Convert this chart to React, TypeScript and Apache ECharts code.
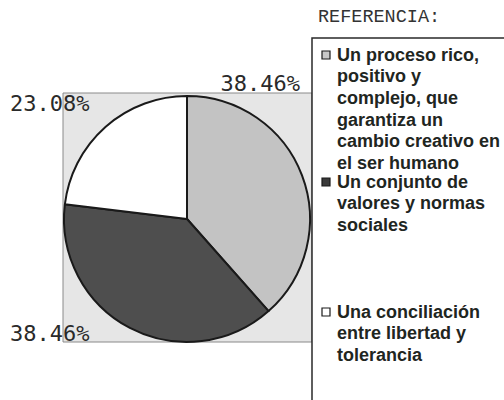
import React, { useEffect, useRef } from "react";
import * as echarts from "echarts";

const categories = [
  "Un proceso rico, positivo y complejo, que garantiza un cambio creativo en el ser humano",
  "Un conjunto de valores y normas sociales",
  "Una conciliación entre libertad y tolerancia",
];
const legendLines = [
  ["Un proceso rico,", "positivo y", "complejo, que", "garantiza un", "cambio creativo en", "el ser humano"],
  ["Un conjunto de", "valores y normas", "sociales"],
  ["Una conciliación", "entre libertad y", "tolerancia"],
];
const values = [38.46, 38.46, 23.08];
const legendTitle = "REFERENCIA:";

const sliceColors = ["#c3c3c3", "#4e4e4e", "#ffffff"];
const iconColors = ["#c8c8c8", "#3a3a3a", "#ffffff"];
const labelPos = [
  { x: 300, y: 83, align: "right" },
  { x: 10, y: 333, align: "left" },
  { x: 10, y: 103, align: "left" },
];
const legendTops = [44, 171, 301];

export default function App() {
  const ref = useRef<HTMLDivElement>(null);
  useEffect(() => {
    const chart = echarts.init(ref.current!, null, { renderer: "svg" });
    const graphics: any[] = [
      {
        type: "rect",
        z: 0,
        shape: { x: 63, y: 93, width: 249, height: 249 },
        style: { fill: "#e6e6e6", stroke: "#8a8a8a", lineWidth: 1 },
      },
      {
        type: "rect",
        z: 0,
        shape: { x: 312, y: 38, width: 200, height: 370 },
        style: { fill: "#ffffff", stroke: "#2a2a2a", lineWidth: 1.5 },
      },
      {
        type: "text",
        x: 318,
        y: 8,
        style: {
          text: legendTitle,
          font: "normal 18.5px 'Liberation Mono', 'DejaVu Sans Mono', monospace",
          fill: "#333333",
        },
      },
    ];
    categories.forEach((c, i) => {
      graphics.push({
        type: "rect",
        shape: { x: 322, y: legendTops[i] + 7, width: 8, height: 8 },
        style: { fill: iconColors[i], stroke: "#1a1a1a", lineWidth: 1.2 },
      });
      graphics.push({
        type: "text",
        x: 337,
        y: legendTops[i],
        style: {
          text: legendLines[i].join("\n"),
          font: "bold 18px 'Liberation Sans', Arial, sans-serif",
          fill: "#1f261f",
          lineHeight: 21.6,
        },
      });
    });
    chart.setOption({
      animation: false,
      backgroundColor: "#ffffff",
      graphic: graphics,
      series: [
        {
          type: "pie",
          center: [187, 219],
          radius: 123,
          startAngle: 90,
          clockwise: true,
          z: 5,
          itemStyle: { borderColor: "#1a1a1a", borderWidth: 2 },
          label: {
            show: true,
            position: "outside",
            overflow: "none",
            formatter: (p: any) => values[p.dataIndex].toFixed(2) + "%",
            fontFamily: "'DejaVu Sans Mono', monospace",
            fontSize: 22,
            color: "#2a2a2a",
          },
          labelLine: { show: false },
          labelLayout: (p: any) => ({
            x: labelPos[p.dataIndex].x,
            y: labelPos[p.dataIndex].y,
            align: labelPos[p.dataIndex].align,
            verticalAlign: "middle",
          }),
          emphasis: { disabled: true },
          data: categories.map((c, i) => ({
            name: c,
            value: values[i],
            itemStyle: { color: sliceColors[i] },
          })),
        },
      ],
    });
    return () => chart.dispose();
  }, []);
  return <div ref={ref} style={{ width: 504, height: 400, position: "absolute", left: 0, top: 0 }} />;
}
